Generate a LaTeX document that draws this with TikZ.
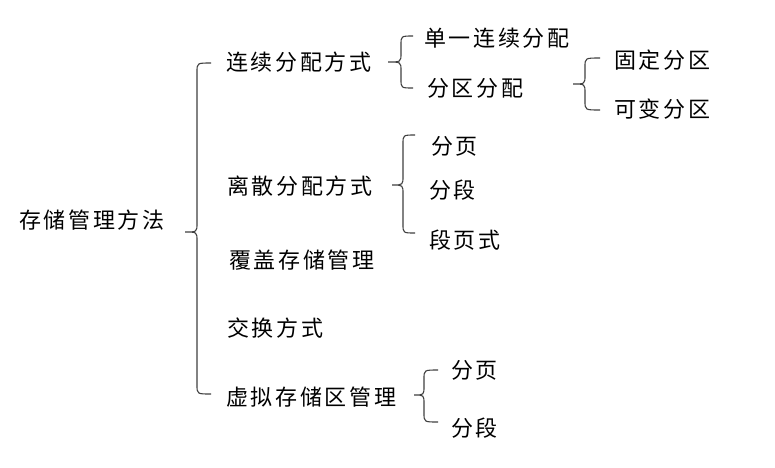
\documentclass[tikz,border=0pt]{standalone}
\usepackage{fontspec}
\newfontfamily\cjk[LetterSpace=12]{Noto Sans CJK SC}
\tikzset{
  lbl/.style={anchor=west, inner sep=0pt, font=\cjk\fontsize{22}{22}\selectfont},
  bracestyle/.style={draw=black!75, line width=1.1pt}
}
\newcommand\cbr[6]{% end x, spine x, tip x, top y, mid y, bottom y
  \draw[bracestyle] (#1,#4) .. controls (#2,#4) .. (#2,{#4+9}) -- (#2,{#5-9})
    .. controls (#2,#5) .. (#3,#5) .. controls (#2,#5) .. (#2,{#5+9})
    -- (#2,{#6-9}) .. controls (#2,#6) .. (#1,#6);}
\begin{document}
\begin{tikzpicture}[x=1pt,y=-1pt]
\useasboundingbox[fill=white] (0,0) rectangle (775,467);
% texts
\node[lbl] (root) at (19,220) {存储管理方法};
\node[lbl] (a1) at (226,62) {连续分配方式};
\node[lbl] (a2) at (227,186) {离散分配方式};
\node[lbl] (a3) at (229,260) {覆盖存储管理};
\node[lbl] (a4) at (227,328) {交换方式};
\node[lbl] (a5) at (226,397) {虚拟存储区管理};
\node[lbl] (b1) at (424,38) {单一连续分配};
\node[lbl] (b2) at (427,88) {分区分配};
\node[lbl] (c1) at (614,60) {固定分区};
\node[lbl] (c2) at (614,109) {可变分区};
\node[lbl] (d1) at (431,146) {分页};
\node[lbl] (d2) at (429,190) {分段};
\node[lbl] (d3) at (429,240) {段页式};
\node[lbl] (e1) at (451,370) {分页};
\node[lbl] (e2) at (451,428) {分段};
% braces
\cbr{211}{197}{185}{63}{232}{394}
\cbr{413}{401}{388}{36}{62}{88}
\cbr{600}{585}{573}{58}{84}{110}
\cbr{415}{403}{392}{135}{185}{233}
\cbr{438}{424}{414}{370}{395}{422}
\end{tikzpicture}
\end{document}
